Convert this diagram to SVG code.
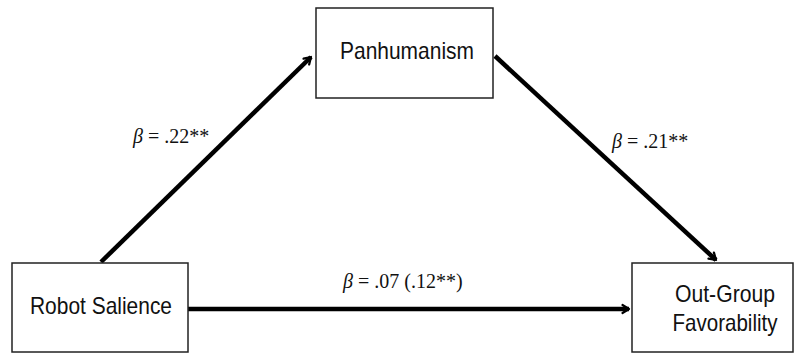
<svg xmlns="http://www.w3.org/2000/svg" width="795" height="354" viewBox="0 0 795 354">
<style>
.box{fill:#fff;stroke:#222;stroke-width:1.5}
.lbl{font-family:"Liberation Sans",Arial,sans-serif;font-size:24px;fill:#111;text-anchor:middle}
.beta{font-family:"Liberation Serif","Times New Roman",serif;font-size:20px;fill:#111}
.conn{stroke:#000;stroke-width:4.5;fill:none}
</style>
<defs>
<marker id="ah" viewBox="0 0 10 10" refX="9" refY="5" markerWidth="5" markerHeight="5" markerUnits="userSpaceOnUse" orient="auto" overflow="visible">
<polyline points="-13,-8 0,0 -13,8" transform="translate(9,5)" fill="none" stroke="#000" stroke-width="4.5" stroke-linecap="round" stroke-linejoin="round"/>
</marker>
</defs>
<rect width="795" height="354" fill="#fff"/>
<g id="connectors">
<line class="conn" x1="101" y1="262" x2="311" y2="57" marker-end="url(#ah)"/>
<line class="conn" x1="495" y1="56" x2="716" y2="260" marker-end="url(#ah)"/>
<line class="conn" x1="188" y1="309" x2="629" y2="309" marker-end="url(#ah)"/>
<text class="beta" x="133" y="143"><tspan font-style="italic">β</tspan> = .22**</text>
<text class="beta" x="612" y="148"><tspan font-style="italic">β</tspan> = .21**</text>
<text class="beta" x="343" y="288"><tspan font-style="italic">β</tspan> = .07 (.12**)</text>
</g>
<g id="robot-salience">
<rect class="box" x="12" y="263" width="176" height="89"/>
<text class="lbl" x="101" y="314" textLength="142" lengthAdjust="spacingAndGlyphs">Robot Salience</text>
</g>
<g id="panhumanism">
<rect class="box" x="316" y="8" width="177" height="90"/>
<text class="lbl" x="407" y="59" textLength="134" lengthAdjust="spacingAndGlyphs">Panhumanism</text>
</g>
<g id="out-group-favorability">
<rect class="box" x="632" y="263" width="161" height="89"/>
<text class="lbl" x="725" y="302" textLength="100" lengthAdjust="spacingAndGlyphs">Out-Group</text>
<text class="lbl" x="725" y="331" textLength="105" lengthAdjust="spacingAndGlyphs">Favorability</text>
</g>
</svg>
